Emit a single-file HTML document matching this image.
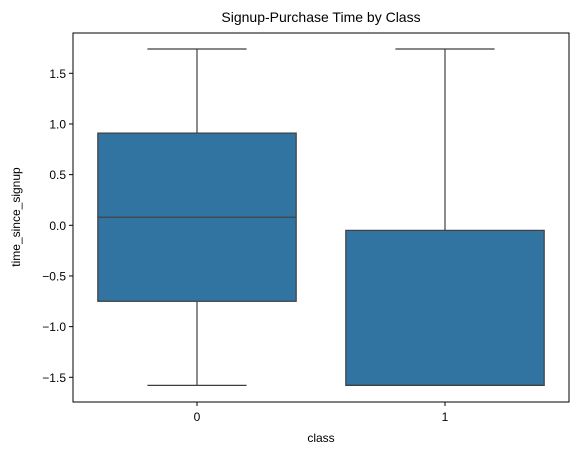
<!DOCTYPE html>
<html><head><meta charset="utf-8"><style>
body{margin:0;background:#fff;font-family:"Liberation Sans","DejaVu Sans",sans-serif;}
</style></head><body>
<svg id="chart" width="579" height="455" xmlns="http://www.w3.org/2000/svg">
<text x="321" y="22" font-size="14" text-anchor="middle" fill="#000">Signup-Purchase Time by Class</text>
<g id="marks"></g>
<rect x="73" y="33" width="496" height="369" fill="none" stroke="#000" stroke-width="1"/>
<g id="axes"></g>
<text x="321" y="442" font-size="12" text-anchor="middle">class</text>
<text transform="translate(20,217) rotate(-90)" font-size="12" text-anchor="middle">time_since_signup</text>
</svg>
<script>
const categories = ["0","1"];
const whiskerLow = [-1.58, -1.58];
const q1Values = [-0.75, -1.58];
const medianValues = [0.08, -1.58];
const q3Values = [0.91, -0.05];
const whiskerHigh = [1.74, 1.74];
const yTicks = [-1.5,-1.0,-0.5,0.0,0.5,1.0,1.5];

const L=73,R=569,T=33,B=402;
const yScale=v=>225.3 - v*101.33;
const band=(R-L)/categories.length;
const xCenter=i=>L+band*(i+0.5);
const NS="http://www.w3.org/2000/svg";
function mk(tag,attrs,parent){const e=document.createElementNS(NS,tag);for(const k in attrs)e.setAttribute(k,attrs[k]);parent.appendChild(e);return e;}
const marks=document.getElementById('marks'), axes=document.getElementById('axes');
const fmt=v=>(v<0?"\u2212":"")+Math.abs(v).toFixed(1);

categories.forEach((c,i)=>{
  const cx=xCenter(i), w=band*0.8, cap=w/4;
  const g=mk('g',{},marks);
  
  
  const st={stroke:'#3f3f3f','stroke-width':1.2};
  const wl1=mk('line',Object.assign({x1:cx,x2:cx,y1:yScale(q3Values[i]),y2:yScale(whiskerHigh[i])},st),g);
  
  
  const wl2=mk('line',Object.assign({x1:cx,x2:cx,y1:yScale(q1Values[i]),y2:yScale(whiskerLow[i])},st),g);
  
  
  const c1=mk('line',Object.assign({x1:cx-cap,x2:cx+cap,y1:yScale(whiskerHigh[i]),y2:yScale(whiskerHigh[i])},st),g);
  
  
  const c2=mk('line',Object.assign({x1:cx-cap,x2:cx+cap,y1:yScale(whiskerLow[i]),y2:yScale(whiskerLow[i])},st),g);
  
  
  const y3=yScale(q3Values[i]), y1=yScale(q1Values[i]);
  const box=mk('rect',Object.assign({x:cx-w/2,y:y3,width:w,height:y1-y3,fill:'#3274a1'},st),g);
  
  
  const md=mk('line',Object.assign({x1:cx-w/2,x2:cx+w/2,y1:yScale(medianValues[i]),y2:yScale(medianValues[i])},st),g);
  
  
  const tk=mk('line',{x1:cx,x2:cx,y1:B,y2:B+4,stroke:'#000'},axes);
  
  
  const tl=mk('text',{x:cx,y:B+19,'font-size':12,'text-anchor':'middle'},axes);
  tl.textContent=c;
  
  
});
yTicks.forEach(v=>{
  const y=yScale(v);
  const tk=mk('line',{x1:L-4,x2:L,y1:y,y2:y,stroke:'#000'},axes);
  
  
  const tl=mk('text',{x:L-7,y:y+4.5,'font-size':12,'text-anchor':'end'},axes);
  tl.textContent=fmt(v);
  
  
});
</script>
</body></html>
